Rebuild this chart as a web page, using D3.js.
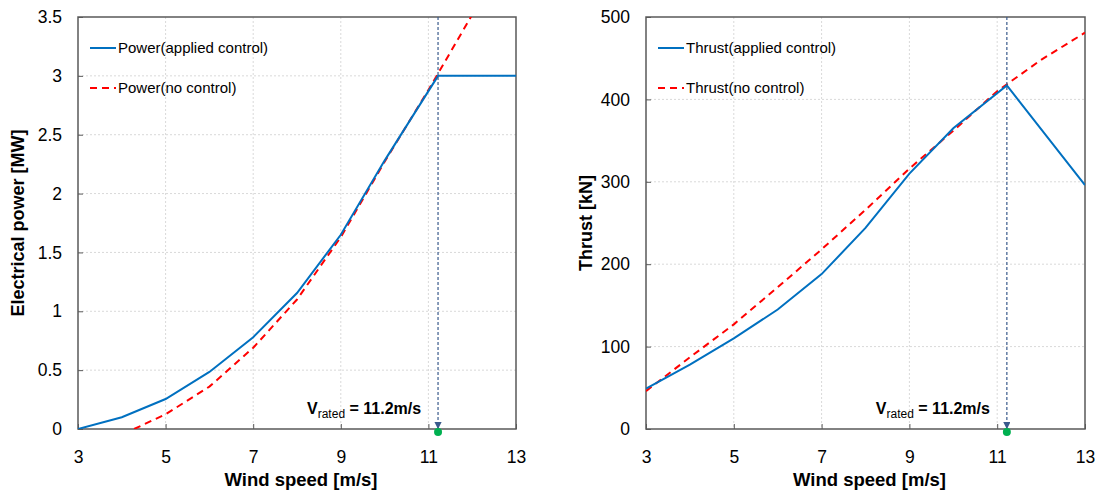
<!DOCTYPE html>
<html>
<head>
<meta charset="utf-8">
<script src="https://cdn.jsdelivr.net/npm/d3@7"></script>
<style>
  body { margin: 0; background: #fff; }
  svg text { font-family: Arial, "Liberation Sans", sans-serif; fill: #000; }
</style>
</head>
<body>
<div id="chart"></div>
<script>
var svgWidth = 1102;
var svgHeight = 499;

// wind speed ticks shown on both x axes
var xTicks = [3, 5, 7, 9, 11, 13];
var ratedSpeed = 11.22;

// power curves [MW]
var powerCtrlX = [3, 4, 5, 6, 7, 8, 9, 10, 11.22, 13];
var powerCtrlY = [0, 0.1, 0.255, 0.485, 0.78, 1.155, 1.65, 2.28, 3.0, 3.0];
var powerFreeX = [4.28, 5, 6, 7, 8, 9, 10, 11, 11.22, 12];
var powerFreeY = [0, 0.125, 0.36, 0.69, 1.1, 1.63, 2.27, 2.88, 3.02, 3.52];
var powerTicks = [0, 0.5, 1, 1.5, 2, 2.5, 3, 3.5];

// thrust curves [kN]
var thrustCtrlX = [3, 4, 5, 6, 7, 8, 9, 10, 11.22, 13];
var thrustCtrlY = [49, 78, 110, 145, 188, 244, 310, 365, 417, 296];
var thrustFreeX = [3, 4, 5, 6, 7, 8, 9, 10, 11, 12, 13];
var thrustFreeY = [46, 87, 127, 172, 218, 266, 316, 362, 410, 448, 481];
var thrustTicks = [0, 100, 200, 300, 400, 500];

var svg = d3.select("#chart")
  .append("svg")
  .attr("width", svgWidth)
  .attr("height", svgHeight);

var defs = svg.append("defs");
defs.append("marker")
  .attr("id", "arrow")
  .attr("viewBox", "0 0 6 6")
  .attr("refX", 5)
  .attr("refY", 3)
  .attr("markerWidth", 6)
  .attr("markerHeight", 6)
  .attr("orient", "auto")
  .append("path")
  .attr("d", "M0,0 L6,3 L0,6 Z")
  .attr("fill", "#3a5a8c");

function drawPanel(opts) {
  var width = opts.right - opts.left;
  var height = opts.bottom - opts.top;

  var g = svg.append("g")
    .attr("transform", `translate(${opts.left}, ${opts.top})`);

  var x = d3.scaleLinear().domain([3, 13]).range([0, width]);
  var y = d3.scaleLinear().domain(opts.yDomain).range([height, 0]);

  g.append("clipPath").attr("id", opts.id + "-clip")
    .append("rect").attr("width", width).attr("height", height);

  // grid
  g.append("g").selectAll("line")
    .data(xTicks.slice(1, -1))
    .enter().append("line")
    .attr("x1", d => x(d)).attr("x2", d => x(d))
    .attr("y1", 0).attr("y2", height)
    .attr("stroke", "#d9d9d9").attr("stroke-dasharray", "2,2");

  g.append("g").selectAll("line")
    .data(opts.yTicks.slice(1, -1))
    .enter().append("line")
    .attr("x1", 0).attr("x2", width)
    .attr("y1", d => y(d)).attr("y2", d => y(d))
    .attr("stroke", "#d9d9d9").attr("stroke-dasharray", "2,2");

  // axes with inward ticks
  var bottomAxis = d3.axisBottom(x).tickValues(xTicks).tickSizeInner(-5).tickSizeOuter(0).tickPadding(22);
  var leftAxis = d3.axisLeft(y).tickValues(opts.yTicks).tickSizeInner(-5).tickSizeOuter(0).tickPadding(16)
    .tickFormat(opts.yFormat);

  var xAxis = g.append("g")
    .attr("transform", `translate(0, ${height})`)
    .call(bottomAxis);
  var yAxis = g.append("g").call(leftAxis);

  [xAxis, yAxis].forEach(function(a) {
    a.select(".domain").remove();
    a.selectAll("line").attr("stroke", "#595959");
    a.selectAll("text").attr("font-size", "17.5px").attr("fill", "#000");
  });

  // frame
  g.append("rect")
    .attr("width", width).attr("height", height)
    .attr("fill", "none").attr("stroke", "#595959").attr("stroke-width", 1.5);

  var line = d3.line().x(d => x(d[0])).y(d => y(d[1]));

  var plot = g.append("g").attr("clip-path", `url(#${opts.id}-clip)`);

  plot.append("path")
    .datum(d3.zip(opts.freeX, opts.freeY))
    .attr("d", line)
    .attr("fill", "none").attr("stroke", "#ff0000")
    .attr("stroke-width", 2).attr("stroke-dasharray", "7,5");

  plot.append("path")
    .datum(d3.zip(opts.ctrlX, opts.ctrlY))
    .attr("d", line)
    .attr("fill", "none").attr("stroke", "#0070c0")
    .attr("stroke-width", 2);

  // rated speed marker
  g.append("line")
    .attr("x1", x(ratedSpeed)).attr("x2", x(ratedSpeed))
    .attr("y1", 0).attr("y2", height - 1)
    .attr("stroke", "#3a5a8c").attr("stroke-width", 1.2)
    .attr("stroke-dasharray", "3,2")
    .attr("marker-end", "url(#arrow)");

  g.append("circle")
    .attr("cx", x(ratedSpeed)).attr("cy", height + 3)
    .attr("r", 4).attr("fill", "#00b050");

  var vr = g.append("text")
    .attr("x", x(ratedSpeed) - 131).attr("y", height - 15)
    .attr("font-size", "16px").attr("font-weight", "bold");
  vr.append("tspan").text("V");
  vr.append("tspan").attr("dy", 4).attr("font-size", "12px").attr("font-weight", "normal").text("rated");
  vr.append("tspan").attr("dy", -4).text(" = 11.2m/s");

  // legend
  var leg = g.append("g").attr("transform", "translate(12, 31)");
  leg.append("line").attr("x1", 0).attr("x2", 26).attr("y1", 0).attr("y2", 0)
    .attr("stroke", "#0070c0").attr("stroke-width", 2);
  leg.append("text").attr("x", 28).attr("y", 5).attr("font-size", "15px").text(opts.legend[0]);
  leg.append("line").attr("x1", 0).attr("x2", 26).attr("y1", 40).attr("y2", 40)
    .attr("stroke", "#ff0000").attr("stroke-width", 2).attr("stroke-dasharray", "7,5");
  leg.append("text").attr("x", 28).attr("y", 45).attr("font-size", "15px").text(opts.legend[1]);

  // axis titles
  g.append("text")
    .attr("x", width / 2 + 4).attr("y", height + 57)
    .attr("text-anchor", "middle")
    .attr("font-size", "18.5px").attr("font-weight", "bold")
    .text("Wind speed [m/s]");

  g.append("text")
    .attr("transform", `translate(${opts.yTitleX}, ${height / 2}) rotate(-90)`)
    .attr("text-anchor", "middle")
    .attr("font-size", "18px").attr("font-weight", "bold")
    .text(opts.yTitle);
}

drawPanel({
  id: "power",
  left: 78, right: 516, top: 17, bottom: 429,
  yDomain: [0, 3.5], yTicks: powerTicks, yFormat: d3.format("~g"),
  ctrlX: powerCtrlX, ctrlY: powerCtrlY, freeX: powerFreeX, freeY: powerFreeY,
  legend: ["Power(applied control)", "Power(no control)"],
  yTitle: "Electrical power [MW]", yTitleX: -54
});

drawPanel({
  id: "thrust",
  left: 646, right: 1085, top: 17, bottom: 429,
  yDomain: [0, 500], yTicks: thrustTicks, yFormat: d3.format("d"),
  ctrlX: thrustCtrlX, ctrlY: thrustCtrlY, freeX: thrustFreeX, freeY: thrustFreeY,
  legend: ["Thrust(applied control)", "Thrust(no control)"],
  yTitle: "Thrust [kN]", yTitleX: -54
});
</script>
</body>
</html>
